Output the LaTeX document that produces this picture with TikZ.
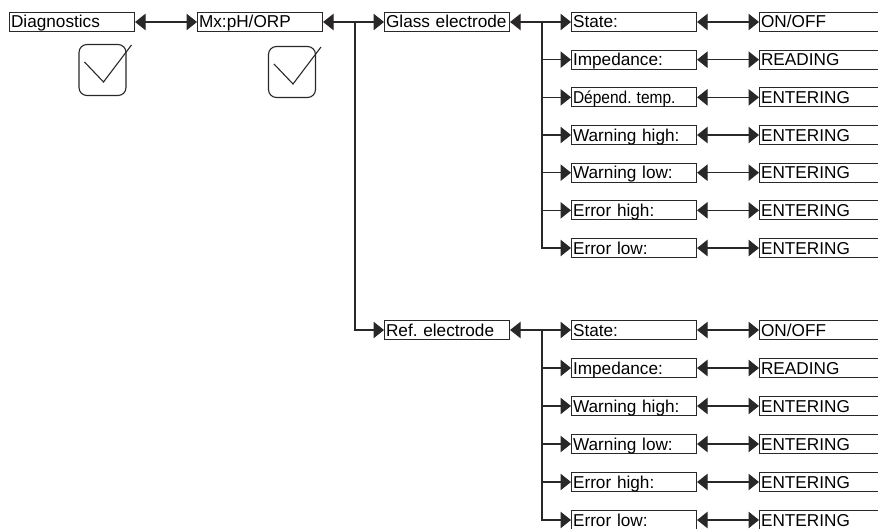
\documentclass[tikz,border=0pt]{standalone}
\usepackage{fontspec}
\setmainfont{Liberation Sans}
\usetikzlibrary{arrows.meta,positioning,calc}
\definecolor{ink}{HTML}{2A2728}
\frenchspacing
\tikzset{
  box/.style={draw=ink,line width=1.1pt,anchor=west,text width=122pt,inner xsep=1.5pt,inner ysep=0pt,
    minimum height=19pt,text height=14pt,text depth=2pt,align=left,font=\fontsize{17.2}{19}\selectfont},
  chk/.style={draw=ink,line width=1.1pt,rounded corners=8pt,minimum width=47pt,minimum height=51pt,inner sep=0pt},
  link/.style={draw=ink,line width=1.1pt},
  arr/.style={link,-{Triangle[length=10.5pt,width=16.5pt]}},
  dblarr/.style={link,{Triangle[length=10.5pt,width=16.5pt]}-{Triangle[length=10.5pt,width=16.5pt]}}
}
\begin{document}
\begin{tikzpicture}[x=1pt,y=-1pt]
  \useasboundingbox (0,0) rectangle (878,529);
  \clip (0,0) rectangle (878,529);
  % menu path
  \node[box] (diag) at (9,22) {Diagnostics};
  \node[box] (mx) at (197,22) {Mx:pH/ORP};
  \node[box] (glass) at (384,22) {Glass electrode};
  \node[box] (ref) at (384,330) {Ref. electrode};
  \node[chk] (diagok) at (102.5,70) {};
  \node[chk] (mxok) at (292,72) {};
  \draw[link] ([shift={(-18,-8)}]diagok.center) -- ++(19,20) -- ++(28,-37);
  \draw[link] ([shift={(-18,-8)}]mxok.center) -- ++(19,20) -- ++(28,-37);
  \draw[dblarr] (diag) -- (mx);
  \coordinate (mxbr) at (355,22);
  \draw[dblarr] (mx) -- (glass);
  \draw[arr] (mxbr) |- (ref);
  % glass electrode
  \foreach \lbl/\val [count=\i] in {{State:}/{ON/OFF},{Impedance:}/{READING},{\scalebox{0.9}[1]{Dépend. temp.}}/{ENTERING},
      {Warning high:}/{ENTERING},{Warning low:}/{ENTERING},{Error high:}/{ENTERING},{Error low:}/{ENTERING}}{
    \pgfmathsetmacro\yy{22+(\i-1)*37.67}
    \node[box] (gs\i) at (571,\yy) {\lbl};
    \node[box] (gv\i) at (759,\yy) {\val};
    \draw[dblarr] (gs\i) -- (gv\i);
  }
  \coordinate (glbr) at (542,22);
  \draw[dblarr] (glass) -- (gs1);
  \foreach \i in {2,...,7} \draw[arr] (glbr) |- (gs\i);
  % ref. electrode
  \foreach \lbl/\val [count=\i] in {{State:}/{ON/OFF},{Impedance:}/{READING},{Warning high:}/{ENTERING},
      {Warning low:}/{ENTERING},{Error high:}/{ENTERING},{Error low:}/{ENTERING}}{
    \pgfmathsetmacro\yy{330+(\i-1)*38}
    \node[box] (rs\i) at (571,\yy) {\lbl};
    \node[box] (rv\i) at (759,\yy) {\val};
    \draw[dblarr] (rs\i) -- (rv\i);
  }
  \coordinate (rfbr) at (542,330);
  \draw[dblarr] (ref) -- (rs1);
  \foreach \i in {2,...,6} \draw[arr] (rfbr) |- (rs\i);
\end{tikzpicture}
\end{document}
